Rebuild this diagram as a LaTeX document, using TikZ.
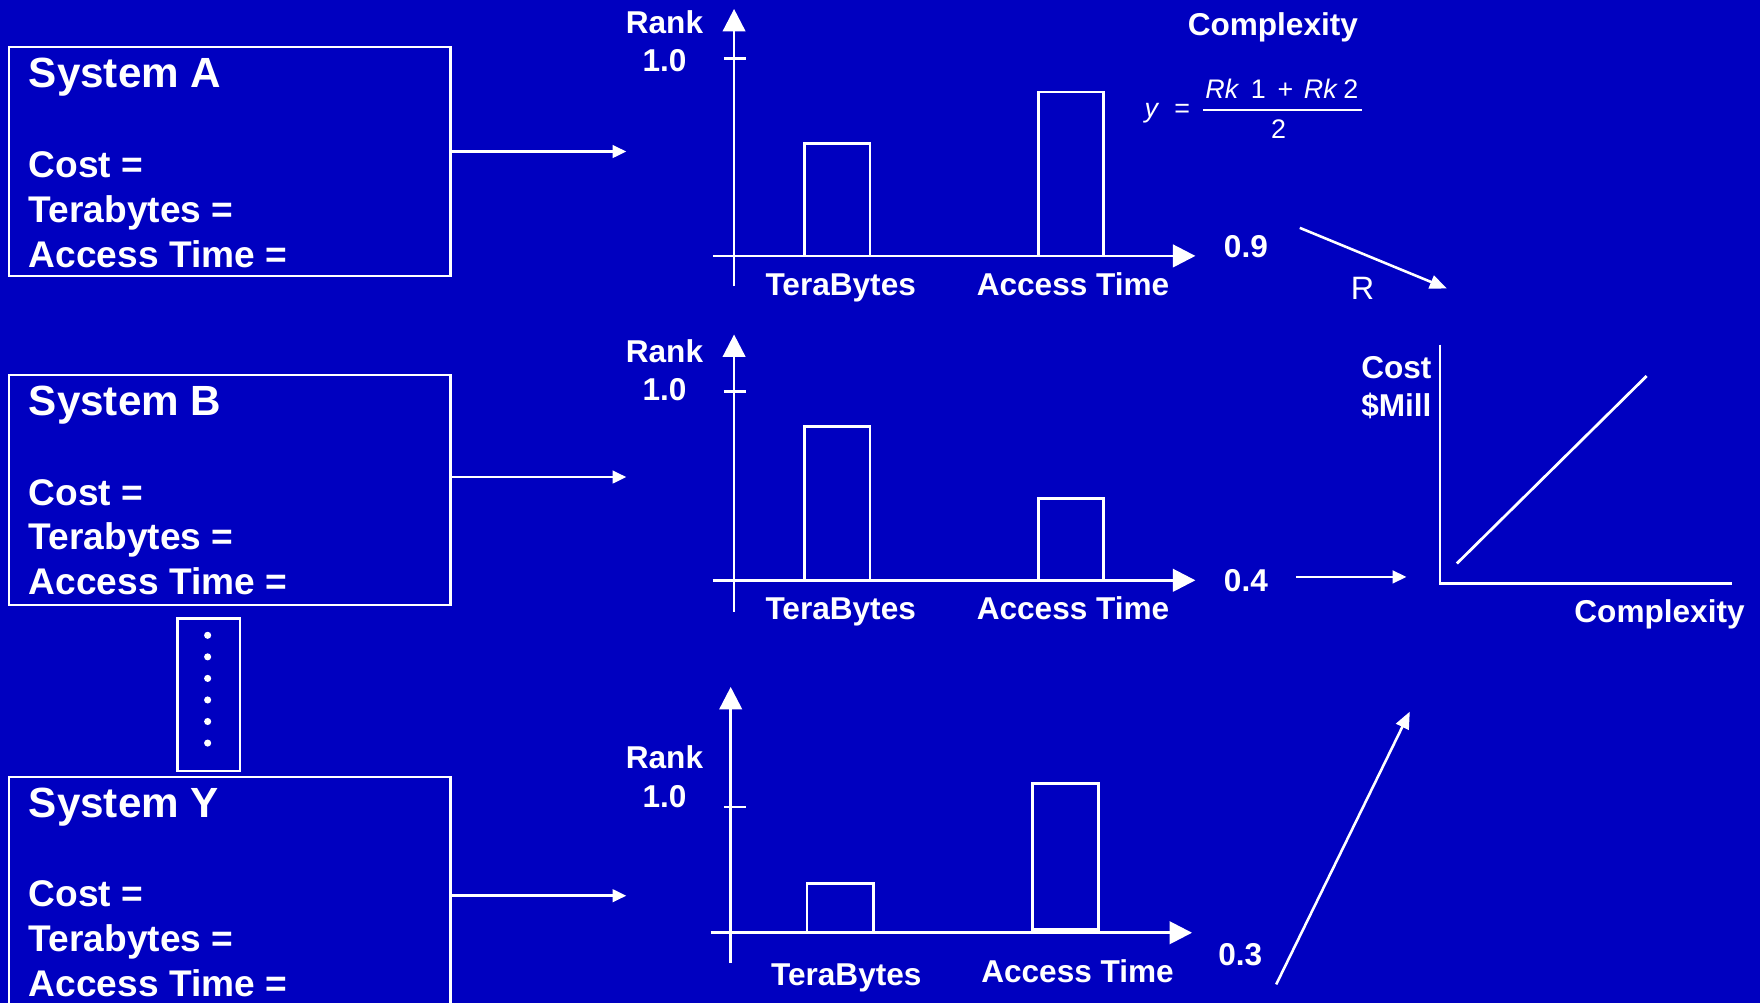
\documentclass[tikz,border=0pt]{standalone}
\usepackage{fontspec}
\setmainfont{Liberation Sans}
\usetikzlibrary{arrows.meta,positioning}
\definecolor{folienblau}{RGB}{0,0,192}

\begin{document}
\begin{tikzpicture}[x=0.01cm, y=-0.01cm,
    lbl/.style={text=white, inner sep=0pt, anchor=base, font=\fontsize{8}{9.6}\selectfont\bfseries},
    boxtxt/.style={lbl, anchor=base west, font=\fontsize{9.4}{11}\selectfont\bfseries},
    boxtitel/.style={lbl, anchor=base west, font=\fontsize{10.7}{13}\selectfont\bfseries},
    formel/.style={text=white, inner sep=0pt, anchor=base, font=\fontsize{6.8}{8}\selectfont},
    sysbox/.style={draw=white, line width=0.6pt, anchor=north west, minimum width=3.93cm, inner sep=0pt},
    achse/.style={white, line width=0.7pt, -{Triangle[length=5.7pt, width=5.7pt]}},
    balken/.style={draw=white, line width=0.7pt},
    linie/.style={white, line width=0.7pt},
    pfeil/.style={white, line width=0.65pt, -{Triangle[length=3.5pt, width=3.2pt]}},
    pfeilgross/.style={white, line width=0.65pt, -{Triangle[length=4.3pt, width=3.5pt]}}]
    \useasboundingbox (0,0) rectangle (1568,894);
    \clip (0,0) rectangle (1568,894);
    \fill[folienblau] (0,0) rectangle (1568,894);

    % System-Kaesten
    \foreach \s/\t/\h in {A/41/204, B/333/205, Y/691/240} {
        \node[sysbox, minimum height=\h*0.01cm] (box\s) at (7,\t) {};
        \node[boxtitel] (titel\s) at (25,{\t+37}) {System \s};
        \node[boxtxt] (cost\s) at (25,{\t+117}) {Cost =};
        \node[boxtxt] (tb\s) at (25,{\t+157}) {Terabytes =};
        \node[boxtxt] (at\s) at (25,{\t+197}) {Access Time =};
    }

    % Punkte zwischen B und Y
    \node[draw=white, line width=0.6pt, anchor=north west, minimum width=0.56cm, minimum height=1.36cm] (punkte) at (157,550) {};
    \foreach \i in {0,...,5}
        \fill[white] (185,{566+19.2*\i}) circle[radius=0.9pt];

    % Pfeile zu den Diagrammen
    \coordinate (inA) at (558,135);
    \coordinate (inB) at (558,425);
    \coordinate (inY) at (558,798);
    \draw[pfeil] (boxA.east |- inA) -- (inA);
    \draw[pfeil] (boxB.east |- inB) -- (inB);
    \draw[pfeil] (boxY.east |- inY) -- (inY);

    % Diagramm A
    \begin{scope}[shift={(654,228)}]
        \draw[balken] (63,0) rectangle (121,-100);
        \draw[balken] (271,0) rectangle (329,-146);
        \draw[achse] (-19,0) -- (411,0);
        \draw[achse] (0,27) -- (0,-220);
        \draw[linie] (-9,-176) -- (11,-176);
        \node[lbl] (rankA) at (-62,-198) {Rank};
        \node[lbl] (einsA) at (-62,-164) {1.0};
        \node[lbl] (tbxA) at (95,35) {TeraBytes};
        \node[lbl] (atxA) at (302,35) {Access Time};
        \node[lbl] (wertA) at (456,1) {0.9};
    \end{scope}

    % Diagramm B
    \begin{scope}[shift={(654,517)}]
        \draw[balken] (63,0) rectangle (121,-137);
        \draw[balken] (271,0) rectangle (329,-73);
        \draw[achse] (-19,0) -- (411,0);
        \draw[achse] (0,28) -- (0,-219);
        \draw[linie] (-9,-168) -- (11,-168);
        \node[lbl] (rankB) at (-62,-194) {Rank};
        \node[lbl] (einsB) at (-62,-160) {1.0};
        \node[lbl] (tbxB) at (95,35) {TeraBytes};
        \node[lbl] (atxB) at (302,35) {Access Time};
        \node[lbl] (wertB) at (456,10) {0.4};
    \end{scope}

    % Diagramm Y
    \begin{scope}[shift={(651,831)}]
        \draw[balken] (68,0) rectangle (127,-44);
        \draw[balken] (269,-3) rectangle (328,-133);
        \draw[achse] (-18,0) -- (411,0);
        \draw[achse] (0,27) -- (0,-219);
        \draw[linie] (-6,-112) -- (14,-112);
        \node[lbl] (rankY) at (-59,-146) {Rank};
        \node[lbl] (einsY) at (-59,-112) {1.0};
        \node[lbl] (tbxY) at (103,47) {TeraBytes};
        \node[lbl] (atxY) at (309,44) {Access Time};
        \node[lbl] (wertY) at (454,29) {0.3};
    \end{scope}

    % Komplexitaet als Mittelwert der Raenge
    \node[lbl] (komplex) at (1134,32) {Complexity};
    \node[formel, anchor=base west] (fy) at (1019,105) {\textit{y}\hspace{3.8pt}=};
    \node[formel] (zaehler) at (1142,88) {\textit{Rk}\hspace{2.9pt}1\hspace{3pt}+\hspace{2.7pt}\textit{Rk}\hspace{1.4pt}2};
    \node[formel] (nenner) at (1139,123) {2};
    \draw[white, line width=0.6pt] (1072,98) -- (1213,98);

    % Pfeile zum Kostendiagramm
    \coordinate (rStart) at (1158,203);
    \coordinate (rEnd) at (1289,257);
    \coordinate (bStart) at (1155,514);
    \coordinate (bEnd) at (1253,514);
    \coordinate (yStart) at (1137,877);
    \coordinate (yEnd) at (1256,634);
    \draw[pfeilgross] (rStart) -- (rEnd);
    \node[formel, font=\fontsize{8.2}{9.6}\selectfont] (rlbl) at (1214,267) {R};
    \draw[pfeil] (bStart) -- (bEnd);
    \draw[pfeilgross] (yStart) -- (yEnd);

    % Kosten ueber Komplexitaet
    \draw[linie] (1283,307) -- (1283,520) -- (1543,520);
    \draw[linie] (1298,502) -- (1467,335);
    \node[lbl, anchor=base east] (kosten) at (1276,337) {Cost};
    \node[lbl, anchor=base east] (mill) at (1276,371) {\$Mill};
    \node[lbl, anchor=base east] (komplex2) at (1555,555) {Complexity};
\end{tikzpicture}
\end{document}
